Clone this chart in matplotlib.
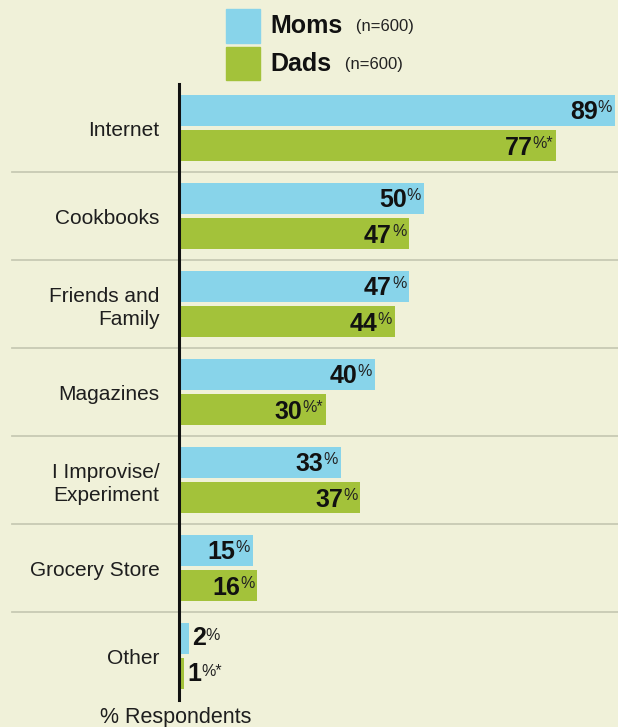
import matplotlib
matplotlib.use("Agg")
import matplotlib.pyplot as plt
import matplotlib.transforms as mtransforms
from matplotlib.patches import Rectangle

categories = ["Internet", "Cookbooks", "Friends and\nFamily", "Magazines",
              "I Improvise/\nExperiment", "Grocery Store", "Other"]
moms = [89, 50, 47, 40, 33, 15, 2]
dads = [77, 47, 44, 30, 37, 16, 1]
dads_flag = [True, False, False, True, False, False, True]   # asterisk after %

BG = "#F0F1D9"
BLUE = "#88D4EA"
GREEN = "#A3C23A"
SEP = "#C8CAB4"

FONT = ["Liberation Sans", "DejaVu Sans"]
NARROW = ["Liberation Sans Narrow", "Liberation Sans", "DejaVu Sans"]
plt.rcParams["font.family"] = FONT

W, H = 618, 727
fig = plt.figure(figsize=(W / 100, H / 100), dpi=100, facecolor=BG)
ax = fig.add_axes([179 / W, 27 / H, 1 - 179 / W, (700 - 84) / H])
ax.set_facecolor(BG)

ypos = list(range(len(categories)))
bh = 0.36
ax.barh([y - 0.2 for y in ypos], moms, height=bh, color=BLUE)
ax.barh([y + 0.2 for y in ypos], dads, height=bh, color=GREEN)

ax.set_xlim(0, 439 / 4.9)
ax.set_ylim(len(categories) - 0.5, -0.5)
ax.set_xticks([])
ax.set_yticks(ypos)
ax.set_yticklabels(categories, fontsize=15, color="#1e1e1e", linespacing=1.25)
ax.tick_params(axis="y", length=0, pad=14)
for s in ["top", "right", "bottom"]:
    ax.spines[s].set_visible(False)
ax.spines["left"].set_linewidth(2.2)
ax.spines["left"].set_color("#111111")

# row separators running into the label area
trans = mtransforms.blended_transform_factory(fig.transFigure, ax.transData)
for y in ypos[:-1]:
    ax.plot([12 / W, 1], [y + 0.5, y + 0.5], color=SEP, lw=1.3,
            transform=trans, clip_on=False, zorder=0)


def value_label(v, y, star):
    pct = "%*" if star else "%"
    if v >= 5:
        p = ax.annotate(pct, xy=(v, y), xytext=(-3, 10), textcoords="offset pixels",
                        ha="right", va="top", fontsize=11.5, color="#222222")
        ax.annotate(str(v), xy=(0, 1), xycoords=p, ha="right", va="top",
                    fontsize=18, fontweight="bold", family=NARROW, color="#111111")
    else:
        n = ax.annotate(str(v), xy=(v, y), xytext=(3, 0), textcoords="offset pixels",
                        ha="left", va="center", fontsize=18, fontweight="bold",
                        family=NARROW, color="#111111")
        ax.annotate(pct, xy=(1, 0.92), xycoords=n, ha="left", va="top",
                    fontsize=11.5, color="#222222")


for y, v in zip(ypos, moms):
    value_label(v, y - 0.2, False)
for y, v, st in zip(ypos, dads, dads_flag):
    value_label(v, y + 0.2, st)

# legend
fig.patches.append(Rectangle((226 / W, 1 - 43 / H), 34 / W, 34 / H,
                             transform=fig.transFigure, color=BLUE))
fig.patches.append(Rectangle((226 / W, 1 - 80 / H), 34 / W, 33 / H,
                             transform=fig.transFigure, color=GREEN))
for name, yc in [("Moms", 26), ("Dads", 64)]:
    t = fig.text(270 / W, 1 - yc / H, name, ha="left", va="center",
                 fontsize=18, fontweight="bold", family=NARROW, color="#111111")
    ax.annotate("   (n=600)", xy=(1, 0.28), xycoords=t, ha="left", va="baseline",
                fontsize=12, color="#222222")

fig.text(176 / W, 1 - 718 / H, "% Respondents", ha="center", va="center",
         fontsize=15.5, color="#1e1e1e")

fig.savefig("out.png", dpi=100, facecolor=BG)
